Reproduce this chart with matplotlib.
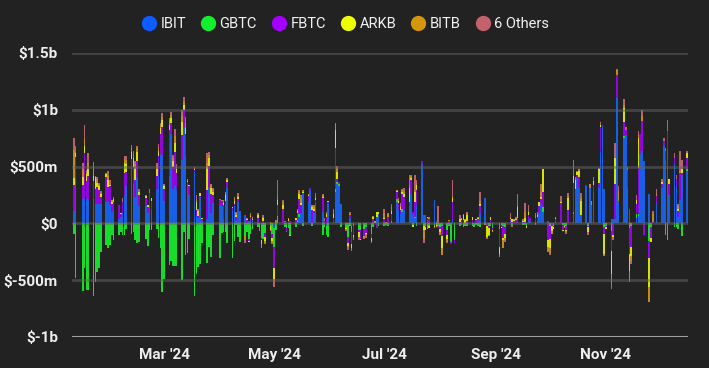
import matplotlib
matplotlib.use('Agg')
import matplotlib.pyplot as plt
import matplotlib.dates as mdates
from matplotlib.lines import Line2D
import numpy as np
import pandas as pd

plt.rcParams['font.family'] = ['Roboto', 'DejaVu Sans']

# US market holidays between the first and last trading day
holidays = ['2024-01-15', '2024-02-19', '2024-03-29', '2024-05-27', '2024-06-19',
            '2024-07-04', '2024-09-02', '2024-11-28']
days = pd.bdate_range('2024-01-11', '2024-12-16', freq='C', holidays=holidays)

# daily net flows, $m
ibit = [
    112, 386, 215, 220, 215, 215, 215, 175, 170, 170, 170, 190, 190, 160,  # Jan
    100, 115, 40, 60, 90, 250, 330, 490, 350, 230, 400, 150, 150, 95, 150, 120, 300, 420, 610, 600,  # Feb
    200, 420, 788, 300, 330, 290, 560, 850, 590, 345, 250, 451, 75, 50, 233, 18, 35, 323, 95, 180,  # Mar
    165, 150, 42, 165, 308, 128, 150, 20, 192, 111, 73, 0, 18, 18, 30, 0, 0, 0, 0, 0, 0, 0,  # Apr
    -37, 0, 0, 0, 0, 0, 0, 0, 0, 0, 60, 94, 260, 200, 290, 0, 90, 180, 100, 0, -20, 170,  # May
    0, 275, 350, 330, 170, 6, 0, 50, -20, 0, 0, 0, 0, 0, 0, 0, 0, 60, 80,  # Jun
    0, 0, 0, 0, 187, 120, 80, 100, 120, 150, 260, 80, 50, 160, 526, 72, 70, 30, 0, 205, 20, 0,  # Jul
    0, 0, 0, 0, 0, 40, 0, 0, 0, 0, 0, 0, 0, 0, 0, 20, 90, 224, 0, 0, 0, 0,  # Aug
    0, 0, 0, 0, 15, 0, 0, 0, 15, 15, 0, 0, 30, 20, 20, 20, 90, 175, 100, 20,  # Sep
    0, 0, 0, 20, 0, 0, 0, 0, 0, 80, 290, 400, 310, 70, 325, 0, 310, 165, 280, 315, 630, 860, 300,  # Oct
    0, 40, 35, 40, 1100, 195, 750, 780, 310, 126, 0, 50, 65, 610, 635, 545, 260, 0, 0, 180,  # Nov
    310, 680, 560, 650, 250, 520, 330, 60, 210, 430, 460,  # Dec
]
gbtc = [
    -95, -484, -594, -397, -590, -582, -641, -515, -429, -394, -255, -192, -220, -187,
    -100, -150, -100, -75, -100, -100, -50, -95, -75, -150, -175, -160, -140, -200, -60, -55, -50, -125, -216, -600,
    -490, -368, -332, -374, -375, -375, -494, -80, -276, -257, -139, -643, -443, -386, -358, -170, -350, -212, -300, -105,
    -302, -81, -75, -80, -176, -303, -155, -18, -124, -167, -110, -79, -135, -90, -45, -35, -66, -130, -140, -82, -25, -94,
    -167, -55, 63, 4, -28, -44, -43, -103, -30, 30, 27, 0, -20, 0, 0, -20, 0, 0, -105, -30, -80, -124,
    0, 30, 15, 15, -30, -40, -120, -20, -60, -20, -60, -60, -50, -35, -90, -30, 0, 0, -25,
    -20, -15, -20, 25, 25, 0, 0, 30, 0, 0, 0, -10, 10, -20, 0, -20, -25, -50, -20, -20, 0, -20,
    -30, -20, -60, -20, -160, 0, -150, -20, -10, -30, -20, -20, -20, -30, -10, -20, -30, 0, 0, -20, -20, -40,
    -50, -10, -20, -30, 0, -10, 0, 0, 0, -10, -10, -20, 0, 0, -10, 0, 0, 0, 40, 0,
    -20, 0, -20, 0, 0, -10, -20, -20, 0, 20, 0, 0, 0, 0, 0, -20, 0, 0, 0, 0, 0, 0, -35,
    -20, -67, 0, 0, 0, 0, 15, 0, 0, -38, -20, 35, 15, 0, 0, 0, -155, -30, 0, 0,
    0, 0, -100, -150, 0, -30, -30, -50, 0, -110, 15,
]
fbtc = [
    227, 195, 125, 400, 160, 200, 160, 130, 150, 125, 60, 215, 130, 170,
    70, 70, 120, 20, 100, 190, 120, 80, 150, 150, 150, 100, 70, 45, 120, 80, 120, 170, 180, 250,
    100, 400, 100, 200, 300, 150, 215, 150, 200, 20, 80, 20, 40, 15, 12, 20, 261, 180, 160, 70,
    44, 45, 117, 33, 60, 10, 20, 40, 20, 0, 0, 30, -20, 37, 0, 50, 0, -20, 20, -40, 0, -35,
    -191, 5, 102, 120, 10, -20, 20, 20, 30, 60, 130, 67, 10, 40, 20, 120, 20, 30, 120, 20, 60, 20,
    50, 360, 30, 20, 0, 0, -50, 20, -100, -80, -20, -80, -60, -50, -35, 40, 0, -40, 0,
    40, -10, 60, 60, 61, 60, 40, 130, 110, 40, 120, 20, 130, 130, 23, 0, -10, 20, 40, 0, 0, -20,
    -20, -90, -40, 20, -20, 150, -20, 10, 30, 30, 0, 20, 30, 0, 30, 20, 60, 0, -20, -20, 30, -20,
    -160, -20, -110, -60, 20, 10, 20, 30, 30, 0, 10, 0, 40, 30, 30, 40, 60, 40, 140, -150,
    -120, -20, -10, 20, 180, -50, 0, -40, 120, 260, 10, 30, 100, 0, 10, -10, 0, 0, 60, 45, 220, 10, -60,
    -10, -175, -100, 306, 205, 0, 131, 40, 160, -235, -190, 90, 410, 175, 263, -100, -146, -100, 10, 60,
    38, 45, 80, 160, 100, 53, 60, 50, 233, 15, 102,
]
arkb = [
    65, 42, 70, 60, 60, 60, 45, 100, 40, 30, 25, 30, 60, 10,
    20, 30, 0, 15, 0, 95, 70, 60, 80, 100, 80, 30, 20, 20, 0, 20, 60, 50, 50, 60,
    30, 50, 40, 50, 80, 40, 120, 40, 50, 10, 10, 10, 70, 40, 20, 10, 200, 73, 60, 30,
    0, 0, 20, 50, 10, 5, 30, 15, 20, 0, 0, 10, -10, 10, 10, 20, 5, -30, 30, -30, -30, -30,
    -98, 0, 40, 40, 5, -5, 15, -10, 20, 20, 40, 20, 10, 10, 0, 20, 20, 10, 10, 0, 20, 5,
    30, 160, 60, 0, 0, -10, -30, 0, -40, -20, -40, -10, 0, -10, -30, 20, 10, 40, 20,
    10, 0, 0, 20, 10, 20, 20, 20, 30, 120, 20, -20, 90, 50, 0, -40, -20, 10, -20, -10, -20, 0,
    -30, -110, -40, 0, 0, 30, 0, 30, 10, 40, 30, 50, 30, 0, 10, 10, 20, 0, -100, -60, 30, -10,
    -58, -10, -20, -40, 10, 25, 10, 10, 100, 10, 40, -20, 30, 0, 0, 10, 40, 20, 200, -60,
    -80, -50, -20, 10, 10, -10, -10, -10, 100, 58, 80, 20, 50, 130, 0, -50, 0, 0, 30, 115, 15, 0, -175,
    -20, -205, -20, 233, 0, 0, 117, 0, 0, -145, -80, 30, 263, 0, 0, 0, -263, -30, 0, 0,
    20, 0, 0, 0, 40, 0, 0, 20, 0, 30, 45,
]
bitb = [
    238, 5, 70, 60, 20, 55, 85, 5, 30, 20, 15, 0, 40, 0,
    15, 0, 0, 0, 0, 30, 40, 40, 30, 40, 30, 0, 0, 0, 0, 0, 30, 30, 30, 30,
    10, 40, 30, 30, 60, 20, 50, 30, 40, 5, 0, 5, 30, 15, 0, 0, 40, 30, 20, 20,
    0, 10, 10, 20, 10, 5, 20, 15, 5, 0, -40, 0, 0, 15, 20, 15, 0, -40, 10, -20, 10, -10,
    -20, 10, 33, 20, 0, 0, 10, 0, -5, 5, 20, 40, 10, 10, 0, 20, 20, 20, 20, 0, 10, 0,
    40, 50, 30, 0, 0, 0, -10, 10, -10, -20, 0, 0, -20, -10, -10, 5, 10, 0, 0,
    40, 10, 20, 40, 10, 10, 20, 10, 20, 30, 20, 0, 10, 20, 0, -80, 0, 0, 10, 0, -10, 0,
    -20, -60, -20, 10, 0, 20, 0, 0, 10, 10, 10, 20, 0, 0, 0, 10, 30, -10, -10, -10, 0, -10,
    -30, 0, -70, -20, 10, 0, 10, 10, 20, 0, 50, 0, 10, 0, 20, 10, 0, 40, 0, -30,
    -40, -20, 0, 10, 0, 0, 0, -10, 20, 0, 20, 0, 20, 20, 0, 0, 40, 30, 0, 0, 0, 0, -15,
    0, -88, 0, 0, 44, 90, 29, 0, 0, -100, -40, 0, 29, 0, 44, 0, -131, 0, 70, 30,
    0, 0, 0, 0, 0, 0, 0, 20, 15, 0, 0,
]
others = [
    110, 50, 50, 130, 15, 90, 35, 10, 20, 10, 15, 10, 40, 40,
    5, 15, 5, 0, 30, 30, 30, 20, 30, 30, 20, 20, 10, 0, 30, 0, 20, 25, 15, 30,
    10, 20, 20, 20, 60, 20, 55, 40, 60, 10, 0, 10, 35, 10, 5, 0, 80, 24, 10, 10,
    10, 5, 20, 10, 10, 0, 10, 10, 30, 0, -20, 5, 0, 10, 0, 10, 0, 0, 10, -10, -10, -10,
    -50, 15, 140, 20, 5, -10, 5, 0, 0, 10, 20, 30, 0, 0, 0, 0, 10, 30, 10, 30, 10, 0,
    10, 5, 20, 0, 0, -20, -20, 20, -10, -10, -30, 0, -10, -20, -10, 0, 0, 0, 0,
    40, 0, 10, 30, 5, 10, 20, 10, 30, 90, 10, 0, 140, 20, 0, -30, 0, 0, 10, -10, 0, 150,
    0, 0, -10, 0, 0, 140, 0, 30, 0, 0, 0, 10, 0, 0, 0, 0, 80, 0, -10, 0, 0, 0,
    0, 0, 0, -10, 40, -20, 0, 10, 95, 10, 80, 0, 50, 0, 20, 20, 0, 75, 0, -10,
    -20, 0, 0, 0, 50, 0, -10, -10, 30, 136, 10, 10, 0, 50, 0, -20, 0, 0, 40, 10, 30, 0, 0,
    0, -44, -30, 125, 9, 45, 53, 30, 30, 0, -30, 45, 35, 0, 58, 0, 0, 0, 25, 30,
    20, 30, 20, 100, 0, 50, 40, 20, 175, 80, 15,
]

names = ['IBIT', 'GBTC', 'FBTC', 'ARKB', 'BITB', '6 Others']
colors = ['#0d5cff', '#12f02c', '#a300ff', '#eeff00', '#d6960a', '#c4616e']
bar_colors = ['#1760e6', '#18dc2a', '#9205e0', '#d8e400', '#c48c14', '#b8626c']
values = [ibit, gbtc, fbtc, arkb, bitb, others]

tick_dates = ['2024-03-01', '2024-05-01', '2024-07-01', '2024-09-01', '2024-11-01']
y_ticks = [-1000, -500, 0, 500, 1000, 1500]
y_labels = ['$-1b', '$-500m', '$0', '$500m', '$1b', '$1.5b']

bg = '#222222'
fig = plt.figure(figsize=(7.09, 3.68), dpi=100, facecolor=bg)
ax = fig.add_axes([72 / 709, 1 - 337 / 368, 616 / 709, 284 / 368])
ax.set_facecolor(bg)

up = np.zeros(len(days))
down = np.zeros(len(days))
for vals, c in zip(values, bar_colors):
    v = np.asarray(vals, dtype=float)
    assert len(v) == len(days)
    p = np.clip(v, 0, None)
    n = np.clip(v, None, 0)
    ax.bar(days, p, bottom=up, width=0.9, color=c, linewidth=0, antialiased=False, zorder=2)
    ax.bar(days, n, bottom=down, width=0.9, color=c, linewidth=0, antialiased=False, zorder=2)
    up += p
    down += n

for y in y_ticks:
    if y == -1000:
        ax.axhline(y, color='#a0a0a0', lw=2.2, zorder=3)
    else:
        ax.axhline(y, color='#666666', lw=2.0, alpha=0.5, zorder=3)

ax.set_ylim(-1000, 1500)
ax.set_xlim(pd.Timestamp('2024-01-10'), pd.Timestamp('2024-12-16 11:00'))
ax.set_yticks(y_ticks)
ax.set_yticklabels(y_labels)
ax.set_xticks(pd.to_datetime(tick_dates))
ax.xaxis.set_major_formatter(mdates.DateFormatter("%b '%y"))
ax.tick_params(length=0, colors='#eeeeee', labelsize=11)
ax.tick_params(axis='y', pad=10)
ax.tick_params(axis='x', pad=8)
for lbl in ax.get_xticklabels() + ax.get_yticklabels():
    lbl.set_fontweight('bold')
for s in ax.spines.values():
    s.set_visible(False)

handles = [Line2D([], [], marker='o', linestyle='', markersize=10, color=c) for c in colors]
fig.legend(handles, names, loc='center', bbox_to_anchor=(0.487, 0.935), ncol=6,
           frameon=False, fontsize=10.5, labelcolor='#f2f2f2', handletextpad=0.3,
           columnspacing=1.0, handlelength=1.0)

fig.savefig('out.png', dpi=100, facecolor=bg)
